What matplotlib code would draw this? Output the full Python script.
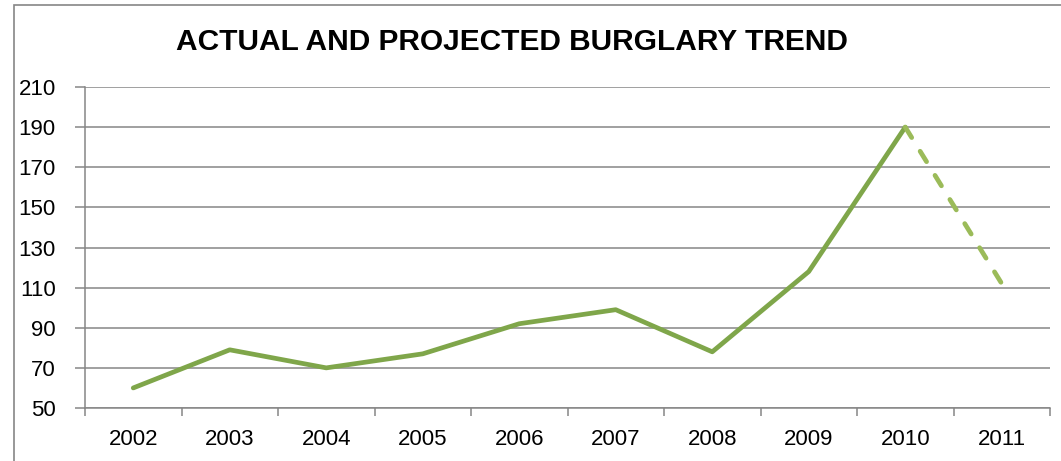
import matplotlib
matplotlib.use("Agg")
import matplotlib.pyplot as plt
from matplotlib.patches import Rectangle

years = ["2002", "2003", "2004", "2005", "2006", "2007", "2008", "2009", "2010", "2011"]
actual = [60, 79, 70, 77, 92, 99, 78, 118, 190]
projected = [190, 112]  # 2010 -> 2011
y_ticks = [50, 70, 90, 110, 130, 150, 170, 190, 210]

W, H = 1061, 461
fig = plt.figure(figsize=(W / 100, H / 100), dpi=100)
fig.patch.set_facecolor("white")

# outer chart border (cut off at right/bottom as in the original)
fig.patches.append(Rectangle((14 / W, -0.1), 1.2, 1 - 5 / H + 0.1,
                             transform=fig.transFigure, fill=False,
                             edgecolor="#868686", linewidth=1.2))

ax = fig.add_axes([85 / W, 1 - 408 / H, (1050 - 85) / W, (408 - 87) / H])

x = list(range(len(years)))
ax.plot(x[:len(actual)], actual, color="#7FA64A", linewidth=3.4,
        solid_capstyle="round", solid_joinstyle="round", zorder=3)
ax.plot(x[8:10], projected, color="#9BBB59", linewidth=3.4,
        linestyle=(0, (2.6, 3.4)), dash_capstyle="round", zorder=3)

ax.set_xlim(-0.5, len(years) - 0.5)
ax.set_ylim(50, 210)
ax.set_yticks(y_ticks)
ax.set_yticklabels([str(v) for v in y_ticks])
ax.yaxis.grid(True, color="#868686", linewidth=1.1)
ax.set_axisbelow(True)

# category labels centred, tick marks between categories
ax.set_xticks(x)
ax.set_xticklabels(years)
ax.set_xticks([i - 0.5 for i in range(len(years) + 1)], minor=True)
ax.tick_params(axis="x", which="major", length=0, pad=15)
ax.tick_params(axis="x", which="minor", length=5.8, width=1.1, color="#868686")
ax.tick_params(axis="y", length=7, width=1.1, color="#868686", pad=14)

for lab in ax.get_xticklabels() + ax.get_yticklabels():
    lab.set_fontfamily("Liberation Sans")
    lab.set_fontsize(16)

for s in ["top", "right"]:
    ax.spines[s].set_visible(False)
for s in ["left", "bottom"]:
    ax.spines[s].set_color("#868686")
    ax.spines[s].set_linewidth(1.1)

fig.text(512 / W, 1 - 42 / H, "ACTUAL AND PROJECTED BURGLARY TREND",
         ha="center", va="center", fontsize=21.5, fontweight="bold",
         family=["Liberation Sans"])

fig.savefig("out.png", dpi=100)
